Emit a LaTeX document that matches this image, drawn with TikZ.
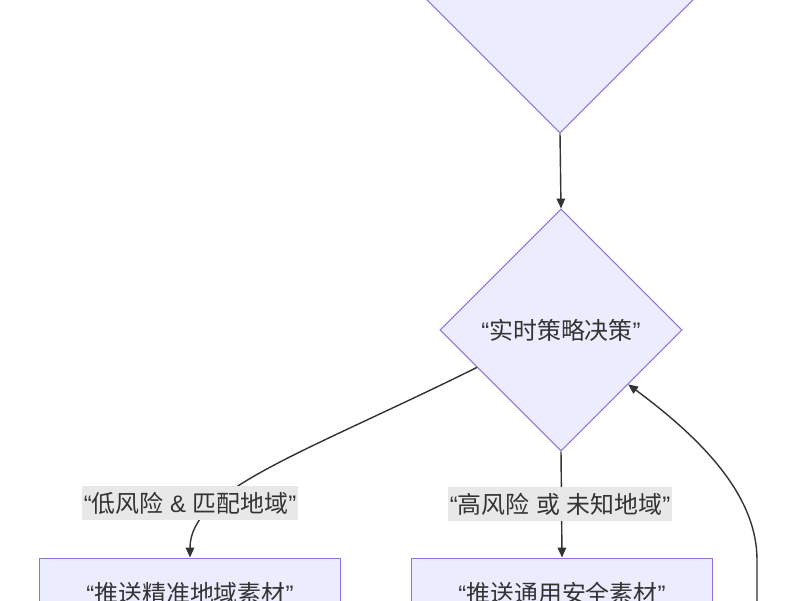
\documentclass[tikz,border=0pt]{standalone}
\usepackage{xcolor}
\usepackage{fontspec}
\setmainfont{Noto Sans CJK SC}
\newfontfamily\wfont{Liberation Sans}
\newcommand{\oq}{{\wfont “}}
\newcommand{\cq}{{\wfont ”}}
\usepackage{tikz}
\usetikzlibrary{arrows.meta, positioning, shapes}
\definecolor{mmfill}{HTML}{ECECFF}
\definecolor{mmline}{HTML}{9370DB}
\definecolor{mmedge}{HTML}{333333}
\definecolor{mmlabel}{HTML}{E8E8E8}

\begin{document}
\begin{tikzpicture}[x=0.025cm, y=-0.025cm, font=\fontsize{17pt}{20pt}\selectfont]
\tikzstyle{decision} = [diamond, aspect=1, minimum width=6.05cm, minimum height=6.05cm, inner sep=0pt, draw=mmline, fill=mmfill, text=mmedge, line width=0.7pt]
\tikzstyle{process} = [rectangle, minimum width=7.5cm, minimum height=1.75cm, text centered, draw=mmline, fill=mmfill, text=mmedge, line width=0.7pt]
\tikzstyle{edgelabel} = [fill=mmlabel, text=mmedge, inner xsep=1pt, inner ysep=4pt]
\tikzstyle{arrow} = [line width=1pt, draw=mmedge, -{Triangle[length=7pt, width=6pt]}]

\useasboundingbox (0,0) rectangle (800,600);

\node (check) [decision, minimum width=7cm, minimum height=7cm] at (560,-7) {};
\node (policy) [decision] at (561,330) {\oq 实时策略决策\cq};
\node (precise) [process] at (190,593) {\oq 推送精准地域素材\cq};
\node (generic) [process] at (562,593) {\oq 推送通用安全素材\cq};
\coordinate (loop) at (757,640);

\draw [arrow] (check.south) -- (policy.north);
\draw [arrow] (policy.204) .. controls (300,455) and (190,490) .. (precise.north);
\draw [arrow] (policy.south) -- (generic.north);
\draw [arrow] (loop) -- (757,560) .. controls (757,500) and (710,445) .. (policy.-39);

\node (lowrisk) [edgelabel] at (190,503) {\oq 低风险{\wfont\ \& }匹配地域\cq};
\node (highrisk) [edgelabel] at (560,504) {\oq 高风险{\wfont\ }或{\wfont\ }未知地域\cq};
\end{tikzpicture}
\end{document}
